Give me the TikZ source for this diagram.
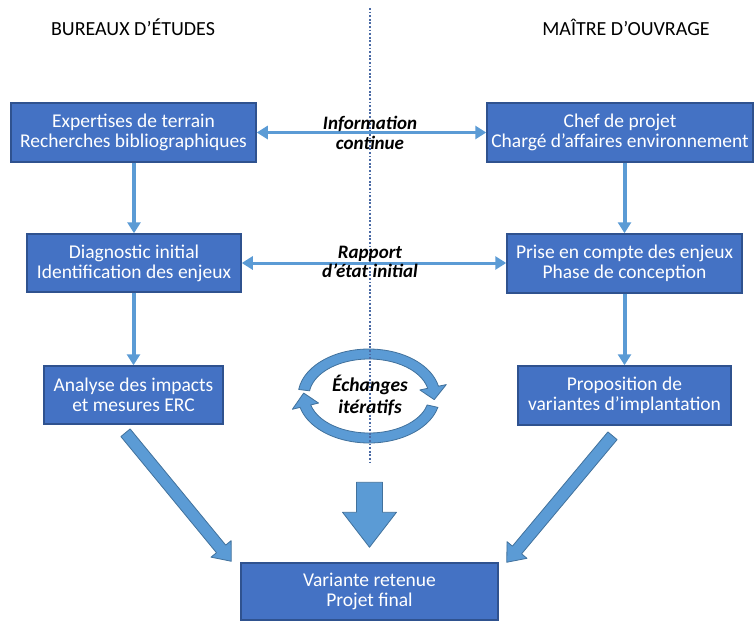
\documentclass[tikz,border=0pt]{standalone}
\usepackage{fontspec}
\setmainfont{Carlito}
\usepackage{tikz}
\usetikzlibrary{
    arrows.meta,
    calc,
    positioning
}

\definecolor{boitebleu}{HTML}{4472C4}
\definecolor{boitebord}{HTML}{2F528F}
\definecolor{flechebleu}{HTML}{5B9BD5}
\definecolor{flechebord}{HTML}{41719C}
\definecolor{pointbleu}{HTML}{4A6AA5}

\tikzset{
    boite/.style={draw=boitebord, line width=1.5pt, fill=boitebleu, text=white,
        align=center, inner sep=0pt, font=\fontsize{19.5}{20}\selectfont},
    lien/.style={flechebleu, line width=4pt, -{Triangle[length=11pt, width=13pt]}},
    liendouble/.style={flechebleu, line width=3pt,
        {Triangle[length=11pt, width=13pt]}-{Triangle[length=11pt, width=13pt]}},
    legende/.style={align=center, font=\fontsize{19}{19.5}\selectfont\bfseries\itshape},
    titre/.style={font=\fontsize{20}{22}\selectfont},
    fleche/.style={fill=flechebleu, draw=flechebord, line width=0.8pt, line join=round},
    pointille/.style={pointbleu, line width=2.2pt, dash pattern=on 1.8pt off 1.8pt}
}

% grosse fleche : depart, arrivee, demi-tige, demi-tete, longueur de tete
\newcommand{\grossefleche}[5]{%
    \coordinate (gfh) at ($(#2)!#5!(#1)$);
    \path[fleche] ($(#1)!#3!90:(#2)$) -- ($(gfh)!#3!-90:(#1)$) -- ($(gfh)!#4!-90:(#1)$)
        -- (#2) -- ($(gfh)!#4!90:(#1)$) -- ($(gfh)!#3!90:(#1)$) -- ($(#1)!#3!-90:(#2)$) -- cycle;
}

\begin{document}
\begin{tikzpicture}[x=1pt, y=-1pt]
    \useasboundingbox (0, 0) rectangle (755, 621);

    % titres des colonnes
    \node[titre] (be) at (133, 27) {BUREAUX D’ÉTUDES};
    \node[titre] (mo) at (626, 27) {MAÎTRE D’OUVRAGE};

    % boites
    \node[boite, minimum width=245pt, minimum height=59pt] (exp) at (133.5, 132.5)
        {Expertises de terrain\\Recherches bibliographiques};
    \node[boite, minimum width=266pt, minimum height=59pt] (chef) at (620, 132.5)
        {Chef de projet\\Chargé d’affaires environnement};
    \node[boite, minimum width=214pt, minimum height=58pt] (diag) at (134, 263)
        {Diagnostic initial\\Identification des enjeux};
    \node[boite, minimum width=235pt, minimum height=59pt] (prise) at (624.5, 263.5)
        {Prise en compte des enjeux\\Phase de conception};
    \node[boite, minimum width=179pt, minimum height=58pt] (ana) at (133.5, 395)
        {Analyse des impacts\\et mesures ERC};
    \node[boite, minimum width=213pt, minimum height=59pt] (prop) at (624.5, 395.5)
        {Proposition de\\variantes d’implantation};
    \node[boite, minimum width=257pt, minimum height=57pt] (fin) at (369.5, 591.5)
        {Variante retenue\\Projet final};

    % echanges iteratifs
    \coordinate (c) at (369, 396);
    \path[fleche] ($(c)+(-172:71 and 47)$)
        arc[start angle=-172, end angle=-12, x radius=71, y radius=47]
        -- ($(c)+(-12:79 and 55)$) -- ($(c)+(5:65.5 and 42)$) -- ($(c)+(-12:52 and 29)$)
        -- ($(c)+(-12:60 and 37)$)
        arc[start angle=-12, end angle=-172, x radius=60, y radius=37] -- cycle;
    \path[fleche] ($(c)+(14:71 and 47)$)
        arc[start angle=14, end angle=166, x radius=71, y radius=47]
        -- ($(c)+(166:79 and 55)$) -- ($(c)+(184:65.5 and 42)$) -- ($(c)+(166:52 and 29)$)
        -- ($(c)+(166:60 and 37)$)
        arc[start angle=166, end angle=14, x radius=60, y radius=37] -- cycle;

    % separation
    \coordinate (haut) at (370, 8);
    \coordinate (bas) at (370, 462);
    \draw[pointille] (haut) -- (bas);

    % liens
    \draw[lien] (diag.north |- exp.south) -- (diag.north);
    \draw[lien] (ana.north |- diag.south) -- (ana.north);
    \draw[lien] (prise.north |- chef.south) -- (prise.north);
    \draw[lien] (prop.north |- prise.south) -- (prop.north);
    \draw[liendouble] (exp.east) -- (chef.west);
    \draw[liendouble] (diag.east) -- (diag.east -| prise.west);

    \node[legende] (info) at (370, 133) {Information\\continue};
    \node[legende] (rap) at (370, 262) {Rapport\\d’état initial};
    \node[legende, font=\fontsize{19.5}{22}\selectfont\bfseries\itshape] (ech) at (370, 395)
        {Échanges\\itératifs};

    % vers le projet final
    \coordinate (g1) at ($(ana.south)+(-8, 8)$);
    \coordinate (g2) at ($(fin.north west)+(-9, -1)$);
    \coordinate (d1) at ($(prop.south)+(-12, 10)$);
    \coordinate (d2) at ($(fin.north east)+(8, 0)$);
    \coordinate (m1) at ($(fin.north)+(0, -80)$);
    \coordinate (m2) at ($(fin.north)+(0, -15)$);
    \grossefleche{g1}{g2}{6pt}{13pt}{16pt}
    \grossefleche{d1}{d2}{6pt}{13pt}{16pt}
    \grossefleche{m1}{m2}{13pt}{27pt}{35pt}
\end{tikzpicture}
\end{document}
